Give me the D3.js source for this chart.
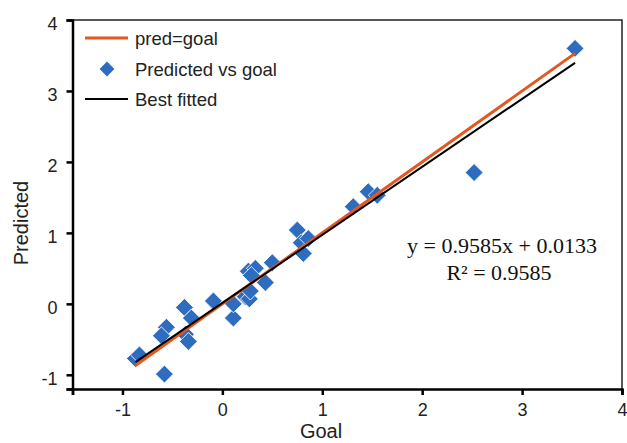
<!DOCTYPE html>
<html>
<head>
<meta charset="utf-8">
<script src="https://cdn.jsdelivr.net/npm/d3@7"></script>
<style>
  html, body { margin: 0; padding: 0; background: #fff; }
  svg { display: block; }
</style>
</head>
<body>
<svg id="chart" width="627" height="443"></svg>
<script>
// ---- data ----
const goal =      [-0.87, -0.83, -0.58, -0.56, -0.61, -0.38, -0.31, -0.37, -0.34, -0.09, 0.11, 0.11, 0.23, 0.27, 0.28, 0.26, 0.33, 0.29, 0.43, 0.50, 0.75, 0.79, 0.86, 0.81, 1.31, 1.46, 1.55, 2.52, 3.53];
const predicted = [-0.77, -0.72, -0.99, -0.33, -0.45, -0.05, -0.20, -0.43, -0.53, 0.04, -0.20, 0.00, 0.10, 0.07, 0.18, 0.46, 0.50, 0.40, 0.30, 0.58, 1.04, 0.86, 0.92, 0.71, 1.37, 1.58, 1.53, 1.85, 3.60];
const xTicks = [-1, 0, 1, 2, 3, 4];
const yTicks = [-1, 0, 1, 2, 3, 4];
const fitSlope = 0.9585;
const fitIntercept = 0.0133;
const rSquared = 0.9585;
const legendLabels = ["pred=goal", "Predicted vs goal", "Best fitted"];

const svg = d3.select("#chart");
const x = d3.scaleLinear().domain([-1.5, 4]).range([72.5, 622]);
const y = d3.scaleLinear().domain([-1.2, 4]).range([389, 20]);

const ORANGE = "#E4571E";
const BLUE = "#2E6CC0";
const fmt = d => String(d); // plain hyphen minus as in the reference

// frame (top/right)
svg.append("path")
  .attr("d", `M${x(-1.5)},${y(4)}H${x(4)}V${y(-1.2)}`)
  .attr("fill", "none").attr("stroke", "#222").attr("stroke-width", 1.5);

// axes
const xAxis = svg.append("g").attr("transform", `translate(0,${y(-1.2)})`)
  .call(d3.axisBottom(x).tickValues([-1.5, ...xTicks]).tickSize(6).tickPadding(8)
    .tickFormat(d => xTicks.includes(d) ? fmt(d) : ""));
const yAxis = svg.append("g").attr("transform", `translate(${x(-1.5)},0)`)
  .call(d3.axisLeft(y).tickValues([-1.2, ...yTicks]).tickSize(6).tickPadding(9)
    .tickFormat(d => yTicks.includes(d) ? fmt(d) : ""));
[xAxis, yAxis].forEach(a => {
  a.select(".domain").attr("stroke", "#000").attr("stroke-width", 2.5);
  a.selectAll(".tick line").attr("stroke", "#000").attr("stroke-width", 2.5);
  a.selectAll(".tick text").attr("font-family", "Liberation Sans, Arial, sans-serif")
    .attr("font-size", 18).attr("fill", "#222");
});
yAxis.selectAll(".tick text").attr("dy", "0.55em");

// axis titles
svg.append("text").attr("x", 321).attr("y", 438).attr("text-anchor", "middle")
  .attr("font-family", "Liberation Sans, Arial, sans-serif").attr("font-size", 20).attr("fill", "#222")
  .text("Goal");
svg.append("text").attr("transform", "translate(28,223) rotate(-90)").attr("text-anchor", "middle")
  .attr("font-family", "Liberation Sans, Arial, sans-serif").attr("font-size", 20).attr("fill", "#222")
  .text("Predicted");

// points
const pts = goal.map((g, i) => ({ g, p: predicted[i] }));
const diamond = d3.symbol(d3.symbolSquare, 160);
svg.append("g").selectAll("path").data(pts).join("path")
  .attr("d", diamond)
  .attr("transform", d => `translate(${x(d.g)},${y(d.p)}) rotate(45)`)
  .attr("fill", BLUE).attr("stroke", "#fff").attr("stroke-width", 0.8);

// lines
const [xmin, xmax] = d3.extent(goal);
svg.append("line")
  .attr("x1", x(xmin)).attr("y1", y(xmin)).attr("x2", x(xmax)).attr("y2", y(xmax))
  .attr("stroke", ORANGE).attr("stroke-width", 3);
svg.append("line")
  .attr("x1", x(xmin)).attr("y1", y(fitSlope * xmin + fitIntercept))
  .attr("x2", x(xmax)).attr("y2", y(fitSlope * xmax + fitIntercept))
  .attr("stroke", "#000").attr("stroke-width", 2);

// equation
const eq = svg.append("text").attr("text-anchor", "middle")
  .attr("font-family", "Liberation Serif, Times New Roman, serif").attr("font-size", 22).attr("fill", "#111");
eq.append("tspan").attr("x", 502).attr("y", 253)
  .text(`y = ${fitSlope}x + ${fitIntercept}`);
eq.append("tspan").attr("x", 499).attr("y", 280)
  .text(`R² = ${rSquared}`);

// legend
const lg = svg.append("g").attr("font-family", "Liberation Sans, Arial, sans-serif").attr("font-size", 18.5).attr("fill", "#222");
const rowY = [38, 69, 99];
lg.append("line").attr("x1", 85).attr("x2", 128).attr("y1", rowY[0]).attr("y2", rowY[0])
  .attr("stroke", ORANGE).attr("stroke-width", 3);
lg.append("path").attr("d", d3.symbol(d3.symbolSquare, 110))
  .attr("transform", `translate(107,${rowY[1]}) rotate(45)`).attr("fill", BLUE);
lg.append("line").attr("x1", 85).attr("x2", 128).attr("y1", rowY[2]).attr("y2", rowY[2])
  .attr("stroke", "#000").attr("stroke-width", 2);
legendLabels.forEach((t, i) => {
  lg.append("text").attr("x", 135).attr("y", rowY[i]).attr("dy", "0.36em").text(t);
});
</script>
</body>
</html>
